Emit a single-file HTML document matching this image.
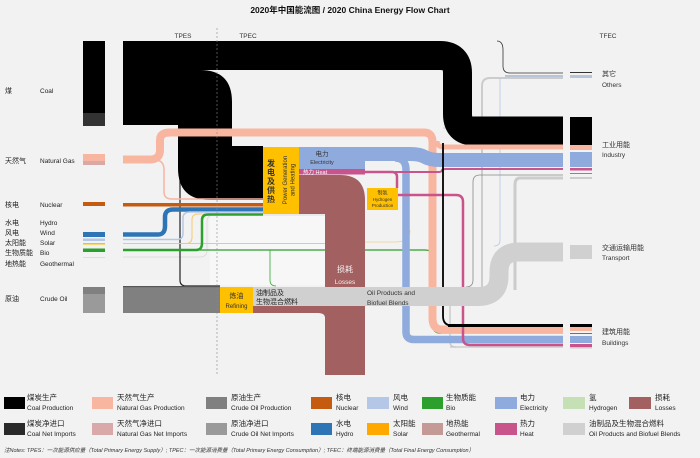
<!DOCTYPE html>
<html><head><meta charset="utf-8"><style>
html,body{margin:0;padding:0;background:#f2f2f2;}
svg{display:block;font-family:"Liberation Sans","Noto Sans CJK SC",sans-serif;}
</style></head><body>
<svg width="700" height="458" viewBox="0 0 700 458" xmlns="http://www.w3.org/2000/svg">
<rect width="700" height="458" fill="#f2f2f2"/>
<text x="350" y="13" font-size="8.5" font-weight="bold" text-anchor="middle" fill="#111">2020年中国能流图 / 2020 China Energy Flow Chart</text>
<text x="183" y="38" font-size="6.5" text-anchor="middle" fill="#333">TPES</text>
<text x="248" y="38" font-size="6.5" text-anchor="middle" fill="#333">TPEC</text>
<text x="608" y="38" font-size="6.5" text-anchor="middle" fill="#333">TFEC</text>

<rect x="210" y="215" width="115" height="70" fill="#f7f7f7"/>

<g fill="none" stroke-linejoin="round">
<path d="M123,257 H200 Q207,257 207,250 V222 Q207,215 214,215 H325" stroke="#ddd" stroke-width="1"/>
<path d="M180,146 V280 Q180,286 186,286 H220" stroke="#222" stroke-width="1.2"/>
<path d="M270,250 V280 Q270,286 276,286" stroke="#3a3" stroke-width="0.8"/>
<path d="M497,41 Q503,41 503,50 V66 Q503,73 510,73 H563" stroke="#333" stroke-width="0.8"/>
<path d="M505,76 H563" stroke="#b8c4d8" stroke-width="2"/>
<path d="M563,78 H490 Q482,78 482,86 V290" stroke="#ccc" stroke-width="2"/>
<path d="M500,78 V240 Q500,246 494,246" stroke="#b4c7e7" stroke-width="0.8"/>
<path d="M563,175 H480 Q473,175 473,182 V280 Q473,287 466,287" stroke="#888" stroke-width="0.8"/>
<path d="M563,178 H520 Q515,178 515,185 V290" stroke="#ccc" stroke-width="3"/>
<path d="M365,242 H395 Q410,242 410,230" stroke="#f4d08a" stroke-width="0.8"/>
<path d="M365,250 H425 Q433,250 433,258 V326 Q433,333 440,333 H563" stroke="#2ca02c" stroke-width="1.2"/>
<path d="M505,260 H563" stroke="#2ca02c" stroke-width="0.8"/>
<path d="M448,338 H563" stroke="#ccc" stroke-width="1"/>
<path d="M450,347 H563" stroke="#ccc" stroke-width="1.5"/>
<path d="M450,296 V342 Q450,347 456,347" stroke="#ccc" stroke-width="1.5"/>
<path d="M443,128 H490 Q497,128 497,135 V138 Q497,143 490,143" stroke="#aaa" stroke-width="0.6"/>
</g>

<!-- Coal -->
<rect x="83" y="41" width="22" height="72" fill="#000"/>
<rect x="83" y="113" width="22" height="13" fill="#333"/>
<path d="M123,41 H200 V70 Q232,70 232,102 V146 H263 V200 H210 Q178,200 178,168 V125 H123 Z" fill="#000"/>
<path d="M123,55.5 H440 Q457.5,55.5 457.5,73 V114 Q457.5,131 474,131 H563" fill="none" stroke="#000" stroke-width="29"/>
<rect x="570" y="117" width="22" height="28" fill="#000"/>

<!-- Natural gas -->
<rect x="83" y="154" width="22" height="7" fill="#f8b5a0"/>
<rect x="83" y="161" width="22" height="4" fill="#d9a8a8"/>
<path d="M123,159.5 H150 Q160,159.5 160,150 V140 Q160,132.5 170,132.5 H424 Q432.5,132.5 432.5,142 V318 Q432.5,329.5 442,329.5 H563" fill="none" stroke="#f8b5a0" stroke-width="8"/>
<path d="M437,141 Q437,147 444,147 H563" fill="none" stroke="#f8b5a0" stroke-width="5"/>
<path d="M155,160 Q164,160 164,170 V192 Q164,199 172,199 H263" fill="none" stroke="#f8b5a0" stroke-width="1.5"/>
<rect x="570" y="145" width="22" height="5" fill="#f8b5a0"/>
<rect x="570" y="327" width="22" height="4" fill="#f8b5a0"/>

<rect x="83" y="202" width="22" height="4" fill="#c55a11"/>
<rect x="123" y="203" width="140" height="3.5" fill="#c55a11"/>
<rect x="83" y="232" width="22" height="5" fill="#2e75b6"/>
<path d="M123,234.5 H158 Q165,234.5 165,226 V217 Q165,209.5 173,209.5 H263" fill="none" stroke="#2e75b6" stroke-width="4.5"/>
<rect x="83" y="238.5" width="22" height="2.5" fill="#b4c7e7"/>
<path d="M123,239.5 H177 Q183,239.5 183,233 V218 Q183,212 190,212 H263" fill="none" stroke="#b4c7e7" stroke-width="1.5"/>
<rect x="83" y="243" width="22" height="1.5" fill="#ffc000"/>
<path d="M123,243.5 H325" fill="none" stroke="#f4c96a" stroke-width="1"/>
<path d="M186,243.5 Q192,243.5 192,237 V220 Q192,214 198,214 H263" fill="none" stroke="#f4c96a" stroke-width="1"/>
<rect x="83" y="248.5" width="22" height="3.5" fill="#2ca02c"/>
<path d="M123,250 H196 Q202,250 202,243 V220 Q202,214.5 208,214.5 H263" fill="none" stroke="#2ca02c" stroke-width="2.5"/>
<path d="M200,250 H365" fill="none" stroke="#2ca02c" stroke-width="1.2"/>
<rect x="83" y="257" width="22" height="1" fill="#ddd"/>

<rect x="83" y="287" width="22" height="7" fill="#808080"/>
<rect x="83" y="294" width="22" height="19" fill="#9a9a9a"/>
<rect x="123" y="287" width="97" height="26" fill="#808080"/>
<rect x="123" y="286" width="97" height="1.2" fill="#555"/>

<path d="M298,175 H340 Q365,175 365,200 V375 H325 V318 Q325,313 318,313 H253 V306 H325 V214 H298 Z" fill="#a36060"/>
<text x="345" y="272" font-size="8" fill="#fff" text-anchor="middle" opacity="0.9">损耗</text>
<text x="345" y="284" font-size="6.5" fill="#fff" text-anchor="middle" opacity="0.9">Losses</text>

<path d="M365,154 H410 Q420,154 425,157 Q430,160 440,160 H563" fill="none" stroke="#8faadc" stroke-width="14"/>
<path d="M395,158 Q406,158 406,170 V332 Q406,339.5 414,339.5 H563" fill="none" stroke="#8faadc" stroke-width="7.5"/>
<rect x="570" y="152" width="22" height="15" fill="#8faadc"/>
<rect x="570" y="336" width="22" height="7" fill="#8faadc"/>
<path d="M365,172 H392 Q397,172 397,177 V188" fill="none" stroke="#c9538b" stroke-width="2.5"/>
<path d="M395,172 H438 Q442,172 442,170 Q442,169 446,169 H563" fill="none" stroke="#c9538b" stroke-width="2"/>
<path d="M398,195 H456 Q463,195 463,202 V338 Q463,345 470,345 H563" fill="none" stroke="#c9538b" stroke-width="2.5"/>
<rect x="570" y="168" width="22" height="2.5" fill="#c9538b"/>
<rect x="570" y="344" width="22" height="3" fill="#c9538b"/>
<rect x="570" y="173" width="22" height="1" fill="#888"/>
<rect x="570" y="177" width="22" height="2" fill="#ccc"/>
<rect x="570" y="72" width="22" height="1" fill="#333"/>
<rect x="570" y="75" width="22" height="3" fill="#b8c4d8"/>
<rect x="570" y="333" width="22" height="1" fill="#2ca02c"/>
<rect x="570" y="347" width="22" height="1.5" fill="#ccc"/>

<path d="M443,143 V316 Q443,325.5 452,325.5 H563" fill="none" stroke="#000" stroke-width="1.8"/>
<path d="M448,325.5 H563" fill="none" stroke="#000" stroke-width="3"/>
<rect x="570" y="324" width="22" height="3" fill="#000"/>

<!-- Oil products -->
<path d="M253,296.5 H478 Q499,296.5 499,276 V272 Q499,252 519,252 H563" fill="none" stroke="#d0d0d0" stroke-width="19"/>
<path d="M253,287 H325 V306 H253 Z" fill="#d0d0d0"/>
<rect x="570" y="245" width="22" height="14" fill="#d0d0d0"/>
<text x="367" y="295" font-size="6.5" fill="#333">Oil Products and</text>
<text x="367" y="305" font-size="6.5" fill="#333">Biofuel Blends</text>

<rect x="220" y="287" width="33" height="26" fill="#ffc000"/>
<text x="236.5" y="298" font-size="7" text-anchor="middle" fill="#333">炼油</text>
<text x="236.5" y="308" font-size="6" text-anchor="middle" fill="#333">Refining</text>
<text x="256" y="295" font-size="7" fill="#222">油制品及</text>
<text x="256" y="304" font-size="7" fill="#222">生物混合燃料</text>

<rect x="263" y="147" width="36" height="67" fill="#ffc000"/>
<g font-size="8" font-weight="bold" fill="#333" text-anchor="middle">
<text x="271" y="166">发</text><text x="271" y="175">电</text><text x="271" y="184">及</text><text x="271" y="193">供</text><text x="271" y="202">热</text>
</g>
<text transform="translate(287,180) rotate(-90)" font-size="6" fill="#333" text-anchor="middle">Power Generation</text>
<text transform="translate(294.5,180) rotate(-90)" font-size="6" fill="#333" text-anchor="middle">and Heating</text>
<rect x="299" y="147" width="66" height="22" fill="#8faadc"/>
<text x="322" y="156" font-size="6.5" text-anchor="middle" fill="#333">电力</text>
<text x="322" y="164" font-size="5.5" text-anchor="middle" fill="#333">Electricity</text>
<rect x="299" y="169" width="66" height="5.5" fill="#c9538b"/>
<text x="303" y="174" font-size="5.5" fill="#fff">热力 Heat</text>

<rect x="367" y="188" width="31" height="22" fill="#ffc000"/>
<text x="382.5" y="194.5" font-size="5" text-anchor="middle" fill="#333">制氢</text>
<text x="382.5" y="201" font-size="4.5" text-anchor="middle" fill="#333">Hydrogen</text>
<text x="382.5" y="207" font-size="4.5" text-anchor="middle" fill="#333">Production</text>

<line x1="217" y1="28" x2="217" y2="375" stroke="#888" stroke-width="0.6" stroke-dasharray="2,2"/>

<g font-size="7" fill="#222">
<text x="5" y="93">煤</text><text x="40" y="93" font-size="6.5">Coal</text>
<text x="5" y="163">天然气</text><text x="40" y="163" font-size="6.5">Natural Gas</text>
<text x="5" y="207">核电</text><text x="40" y="207" font-size="6.5">Nuclear</text>
<text x="5" y="225">水电</text><text x="40" y="225" font-size="6.5">Hydro</text>
<text x="5" y="235">风电</text><text x="40" y="235" font-size="6.5">Wind</text>
<text x="5" y="245">太阳能</text><text x="40" y="245" font-size="6.5">Solar</text>
<text x="5" y="255">生物质能</text><text x="40" y="255" font-size="6.5">Bio</text>
<text x="5" y="266">地热能</text><text x="40" y="266" font-size="6.5">Geothermal</text>
<text x="5" y="301">原油</text><text x="40" y="301" font-size="6.5">Crude Oil</text>
</g>
<g font-size="7" fill="#333">
<text x="602" y="76">其它</text><text x="602" y="87" font-size="6.5">Others</text>
<text x="602" y="147">工业用能</text><text x="602" y="157" font-size="6.5">Industry</text>
<text x="602" y="250">交通运输用能</text><text x="602" y="260" font-size="6.5">Transport</text>
<text x="602" y="334">建筑用能</text><text x="602" y="345" font-size="6.5">Buildings</text>
</g>

<g font-size="7.5" fill="#222">
<rect x="4" y="397" width="21" height="12" fill="#000"/><text x="27" y="400">煤炭生产</text><text x="27" y="410" font-size="6.5">Coal Production</text>
<rect x="92" y="397" width="21" height="12" fill="#f8b5a0"/><text x="117" y="400">天然气生产</text><text x="117" y="410" font-size="6.5">Natural Gas Production</text>
<rect x="206" y="397" width="21" height="12" fill="#808080"/><text x="231" y="400">原油生产</text><text x="231" y="410" font-size="6.5">Crude Oil Production</text>
<rect x="311" y="397" width="21" height="12" fill="#c55a11"/><text x="336" y="400">核电</text><text x="336" y="410" font-size="6.5">Nuclear</text>
<rect x="367" y="397" width="22" height="12" fill="#b4c7e7"/><text x="393" y="400">风电</text><text x="393" y="410" font-size="6.5">Wind</text>
<rect x="422" y="397" width="21" height="12" fill="#2ca02c"/><text x="446" y="400">生物质能</text><text x="446" y="410" font-size="6.5">Bio</text>
<rect x="495" y="397" width="22" height="12" fill="#8faadc"/><text x="520" y="400">电力</text><text x="520" y="410" font-size="6.5">Electricity</text>
<rect x="563" y="397" width="22" height="12" fill="#c5e0b4"/><text x="589" y="400">氢</text><text x="589" y="410" font-size="6.5">Hydrogen</text>
<rect x="629" y="397" width="22" height="12" fill="#a36060"/><text x="655" y="400">损耗</text><text x="655" y="410" font-size="6.5">Losses</text>

<rect x="4" y="423" width="21" height="12" fill="#2a2a2a"/><text x="27" y="426">煤炭净进口</text><text x="27" y="436" font-size="6.5">Coal Net Imports</text>
<rect x="92" y="423" width="21" height="12" fill="#d9a8a8"/><text x="117" y="426">天然气净进口</text><text x="117" y="436" font-size="6.5">Natural Gas Net Imports</text>
<rect x="206" y="423" width="21" height="12" fill="#9a9a9a"/><text x="231" y="426">原油净进口</text><text x="231" y="436" font-size="6.5">Crude Oil Net Imports</text>
<rect x="311" y="423" width="21" height="12" fill="#2e75b6"/><text x="336" y="426">水电</text><text x="336" y="436" font-size="6.5">Hydro</text>
<rect x="367" y="423" width="22" height="12" fill="#ffa800"/><text x="393" y="426">太阳能</text><text x="393" y="436" font-size="6.5">Solar</text>
<rect x="422" y="423" width="21" height="12" fill="#c49a96"/><text x="446" y="426">地热能</text><text x="446" y="436" font-size="6.5">Geothermal</text>
<rect x="495" y="423" width="22" height="12" fill="#c9538b"/><text x="520" y="426">热力</text><text x="520" y="436" font-size="6.5">Heat</text>
<rect x="563" y="423" width="22" height="12" fill="#d0d0d0"/><text x="589" y="426">油制品及生物混合燃料</text><text x="589" y="436" font-size="6.5">Oil Products and Biofuel Blends</text>
</g>
<text x="4" y="452" font-size="5.5" font-style="italic" fill="#333">注Notes: TPES：一次能源供应量（Total Primary Energy Supply）; TPEC：一次能源消费量（Total Primary Energy Consumption）; TFEC：终端能源消费量（Total Final Energy Consumption）</text>
</svg>
</body></html>
